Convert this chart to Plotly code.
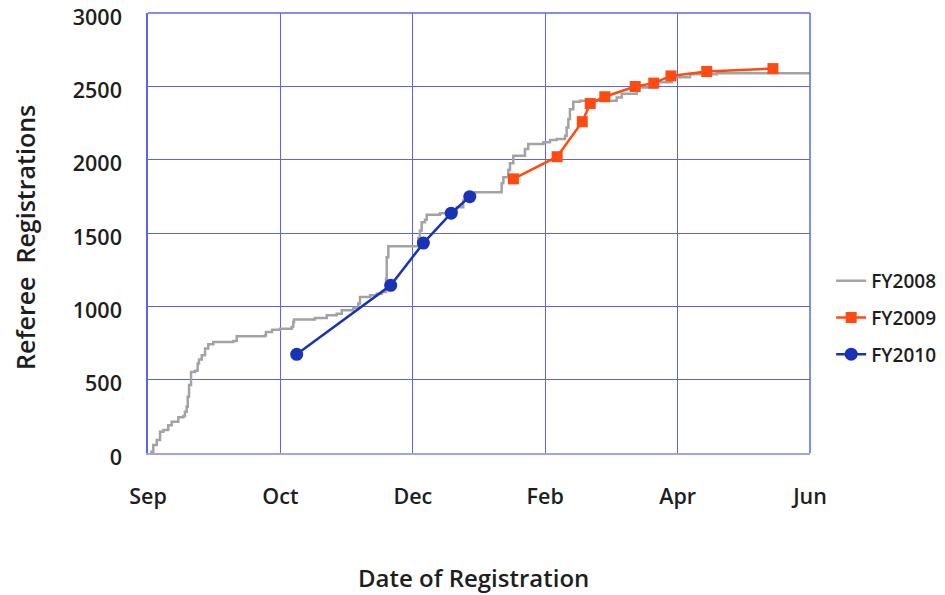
import plotly.graph_objects as go

tick_labels = ["Sep", "Oct", "Dec", "Feb", "Apr", "Jun"]
tick_pos = [0, 1, 2, 3, 4, 5]

fy2008_x = [0.015, 0.040, 0.066, 0.091, 0.116, 0.153, 0.179, 0.229, 0.267, 0.279,
            0.292, 0.300, 0.310, 0.325, 0.355, 0.375, 0.385, 0.406, 0.431, 0.455,
            0.493, 0.644, 0.670, 0.884, 0.891, 0.937, 0.997, 1.085, 1.097, 1.103,
            1.261, 1.350, 1.425, 1.463, 1.551, 1.588, 1.601, 1.677, 1.727, 1.765,
            1.798, 1.803, 1.815, 2.042, 2.054, 2.067, 2.092, 2.105, 2.205, 2.281,
            2.332, 2.381, 2.432, 2.470, 2.671, 2.684, 2.721, 2.734, 2.759, 2.847,
            2.872, 2.986, 3.036, 3.087, 3.150, 3.162, 3.175, 3.187, 3.212, 3.263,
            3.540, 3.578, 3.691, 3.842, 3.955, 4.094, 4.295, 5.0]
fy2008_y = [9, 54, 88, 145, 156, 190, 213, 243, 252, 281,
            315, 383, 463, 553, 560, 610, 637, 667, 712, 741,
            757, 764, 796, 803, 825, 840, 848, 859, 893, 910,
            920, 939, 950, 973, 990, 1020, 1063, 1075, 1086, 1097,
            1188, 1335, 1410, 1467, 1517, 1574, 1590, 1625, 1635, 1645,
            1676, 1721, 1750, 1778, 1840, 1880, 1930, 1975, 2027, 2073,
            2107, 2118, 2134, 2141, 2163, 2220, 2277, 2344, 2395, 2401,
            2424, 2449, 2492, 2528, 2562, 2583, 2590, 2592]

fy2009_x = [2.76, 3.09, 3.28, 3.34, 3.45, 3.68, 3.82, 3.95, 4.22, 4.72]
fy2009_y = [1869, 2020, 2259, 2383, 2429, 2499, 2522, 2571, 2601, 2621]

fy2010_x = [1.123, 1.833, 2.08, 2.29, 2.43]
fy2010_y = [673, 1143, 1431, 1635, 1748]

y_ticks = [0, 500, 1000, 1500, 2000, 2500, 3000]

font_family = "Open Sans"
grid_color = "#5a64f0"
text_color = "#1e1e1e"

fig = go.Figure()
fig.add_trace(go.Scatter(x=fy2008_x, y=fy2008_y, mode="lines", name="FY2008",
                         legendgroup="a",
                         line=dict(color="#a3a3a3", width=2.5, shape="hv")))
fig.add_trace(go.Scatter(x=fy2009_x, y=fy2009_y, mode="lines+markers", name="FY2009",
                         legendgroup="b",
                         line=dict(color="#ff4a12", width=2.5),
                         marker=dict(symbol="square", size=11, color="#ff4a12")))
fig.add_trace(go.Scatter(x=fy2010_x, y=fy2010_y, mode="lines+markers", name="FY2010",
                         legendgroup="c",
                         line=dict(color="#1833b5", width=2.5),
                         marker=dict(symbol="circle", size=13, color="#1833b5")))

fig.update_layout(
    width=945, height=595,
    margin=dict(l=140, r=143, t=5, b=150),
    paper_bgcolor="white", plot_bgcolor="white",
    font=dict(family=font_family, color=text_color),
    showlegend=True,
    legend=dict(x=1.032, y=0.307, xanchor="left", yanchor="middle",
                font=dict(size=19, family=font_family, weight=600, color=text_color),
                itemwidth=30, tracegroupgap=9, bgcolor="rgba(0,0,0,0)"),
    xaxis=dict(range=[0, 5], tickmode="array", tickvals=tick_pos, ticktext=tick_labels,
               showgrid=True, gridcolor=grid_color, gridwidth=1.2,
               showline=True, linecolor="#a0a3e6", linewidth=2, mirror=False,
               zeroline=False, ticks="", ticklabelstandoff=23, automargin=False,
               ticklabeloverflow="allow",
               tickfont=dict(size=21.5, family=font_family, weight=600, color=text_color)),
    yaxis=dict(range=[0, 3000], tickmode="array", tickvals=y_ticks,
               showgrid=True, gridcolor=grid_color, gridwidth=1.2,
               showline=True, linecolor=grid_color, linewidth=1.5, mirror=False,
               zeroline=False, ticks="", ticklabelstandoff=20, automargin=False,
               ticklabeloverflow="allow", ticklabelshift=4,
               tickfont=dict(size=21.5, family=font_family, weight=600, color=text_color)),
    annotations=[
        dict(text="Date of Registration", xref="paper", yref="paper",
             x=0.491, y=-0.282, xanchor="center", yanchor="middle", showarrow=False,
             font=dict(size=24, family=font_family, weight=600, color=text_color)),
        dict(text="Referee  Registrations", xref="paper", yref="paper",
             x=-0.185, y=0.490, xanchor="center", yanchor="middle", showarrow=False,
             textangle=-90,
             font=dict(size=25, family=font_family, weight=600, color=text_color)),
    ],
)
fig.add_shape(type="line", xref="paper", yref="paper", x0=1, x1=1, y0=0, y1=1,
              line=dict(color=grid_color, width=1.5))
fig.add_shape(type="line", xref="paper", yref="paper", x0=0, x1=1, y0=1, y1=1,
              line=dict(color=grid_color, width=1.5))

fig.write_html("out.html")
